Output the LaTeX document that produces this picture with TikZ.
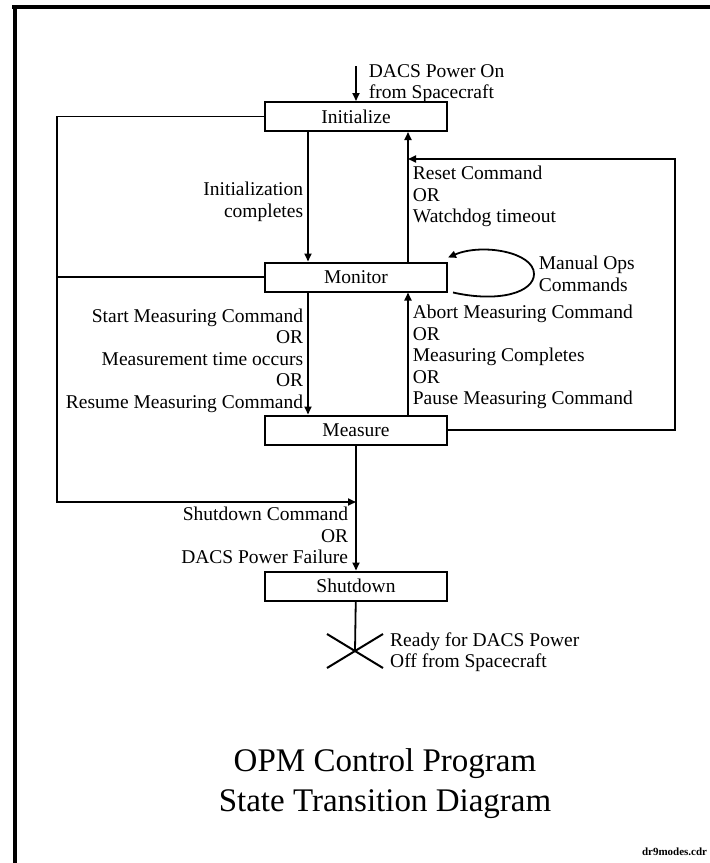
\documentclass[tikz,border=0pt]{standalone}
\usepackage{fontspec}
\setmainfont{Liberation Serif}
\usetikzlibrary{arrows.meta, shapes.misc}

\begin{document}
\begin{tikzpicture}[
  x = 1pt, y = -1pt,
  line width = 1.8pt,
  >= {Triangle[length = 8pt, width = 7pt]},
  font = \fontsize{19.5}{21.5}\selectfont,
  state/.style = {draw, line width = 2pt, minimum width = 182pt,
    minimum height = 29pt, inner sep = 0pt},
  cond/.style = {inner sep = 4pt},
  ]

  \useasboundingbox (0, 0) rectangle (710, 863);
  \fill [white] (0, 0) rectangle (710, 863);

  % frame
  \draw [line width = 3.5pt] (12, 7) -- (715, 7);
  \draw [line width = 3.5pt] (15, 5) -- (15, 868);

  \node at (356, 116.5)
  [state, name = Initialize] {Initialize};

  \node at (356, 277)
  [state, name = Monitor] {Monitor};

  \node at (356, 430)
  [state, name = Measure] {Measure};

  \node at (356, 586)
  [state, name = Shutdown] {Shutdown};

  \node at (355, 651)
  [cross out, draw, line width = 2pt, minimum width = 54pt, minimum height = 32pt,
   inner sep = 0pt, name = PowerOff] {};

  \coordinate (PowerOn) at (356, 66);
  \coordinate (LeftCorner) at (57, 502);
  \coordinate (ResetCorner) at (675, 159);
  \coordinate (ResetJoin) at (408, 159);

  \draw [->] (PowerOn) to node [cond, right, align = left, xshift = 8pt]
  {DACS Power On\\from Spacecraft} (Initialize);

  \draw [->] ([xshift = -48pt]Initialize.south) to
  node [cond, left, align = right, pos = 0.54] {Initialization\\completes}
  ([xshift = -48pt]Monitor.north);

  \draw [->] ([xshift = 52pt]Monitor.north) to
  node [cond, right, align = left, pos = 0.5]
  {Reset Command\\OR\\Watchdog timeout}
  ([xshift = 52pt]Initialize.south);

  \draw [->] ([xshift = -48pt]Monitor.south) to
  node [cond, left, align = right, pos = 0.56]
  {Start Measuring Command\\OR\\Measurement time occurs\\OR\\Resume Measuring Command}
  ([xshift = -48pt]Measure.north);

  \draw [->] ([xshift = 52pt]Measure.north) to
  node [cond, right, align = left, pos = 0.47]
  {Abort Measuring Command\\OR\\Measuring Completes\\OR\\Pause Measuring Command}
  ([xshift = 52pt]Monitor.south);

  \draw [->] ([xshift = 5pt]Monitor.south east)
  .. controls (500, 303) and (534, 292) .. (534, 274)
  node [cond, right, align = left] {Manual Ops\\Commands}
  .. controls (534, 252) and (482, 243) .. ([yshift = 4pt]Monitor.north east);

  \draw [->] (Measure.east) -| (ResetCorner) -- (ResetJoin);

  \draw [->] (Initialize.west) -| (LeftCorner) -- (LeftCorner -| Measure.south);

  \draw (Monitor.west) -- (Monitor.west -| LeftCorner);

  \draw [->] (Measure) to
  node [cond, left, align = right, pos = 0.72, xshift = -3pt]
  {Shutdown Command\\OR\\DACS Power Failure} (Shutdown);

  \draw (Shutdown) -- (PowerOff.center);

  \node at (386, 652)
  [anchor = west, align = left, name = OffLabel]
  {Ready for DACS Power\\Off from Spacecraft};

  \node at (385, 784)
  [align = center, font = \fontsize{33}{40}\selectfont, name = Title]
  {OPM Control Program\\State Transition Diagram};

  \node at (708, 852)
  [anchor = east, inner sep = 0pt, font = \fontsize{11}{12}\selectfont\bfseries,
   name = FileTag] {dr9modes.cdr};

\end{tikzpicture}
\end{document}
